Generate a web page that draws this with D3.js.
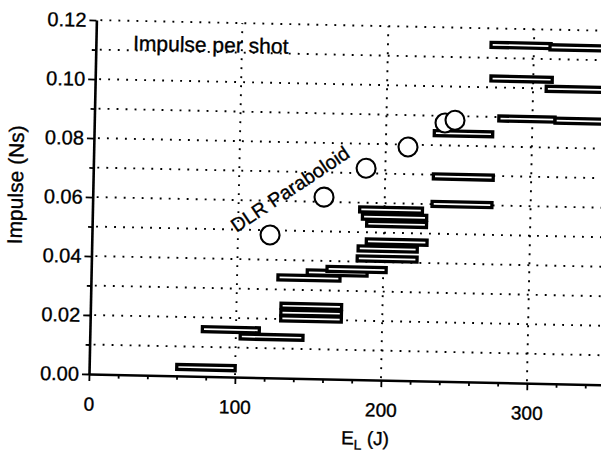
<!DOCTYPE html>
<html>
<head>
<meta charset="utf-8">
<script src="https://cdn.jsdelivr.net/npm/d3@7"></script>
<style>
  body { margin: 0; background: #fff; }
  svg { display: block; font-family: "Liberation Sans", Arial, sans-serif; }
  text { stroke: #000; stroke-width: 0.35; }
</style>
</head>
<body>
<svg width="601" height="454"></svg>
<script>
// energy ranges (J) and impulse (Ns) of the measured shots
const barLow     = [60, 77, 103, 130.5, 130.5, 130.5, 128, 148, 161.5, 182, 182.5, 188, 183, 185, 188, 232.5, 233, 233, 271, 309, 270.6, 311, 277, 315.5];
const barHigh    = [100, 116, 146, 172, 172, 172, 170.5, 189, 202, 223, 223, 229.6, 226, 229, 229, 273.5, 274, 273, 313, 370, 311.7, 370, 315.5, 370];
const barImpulse = [0.003, 0.016, 0.0138, 0.0245, 0.0222, 0.0202, 0.0341, 0.036, 0.0373, 0.0411, 0.0445, 0.0469, 0.0577, 0.0553, 0.0529, 0.0601, 0.0694, 0.0841, 0.103, 0.0999, 0.1144, 0.114, 0.0895, 0.0892];

// DLR paraboloid points
const dlrEnergy  = [122, 158.4, 186.8, 215.2, 240.2, 247];
const dlrImpulse = [0.0484, 0.0616, 0.0717, 0.0792, 0.0876, 0.0886];

const xTicks  = [0, 100, 200, 300];
const xMinor  = [20, 40, 60, 80, 120, 140, 160, 180, 220, 240, 260, 280, 320, 340];
const xGrid   = [100, 200, 300];
const yTicks  = [0, 0.02, 0.04, 0.06, 0.08, 0.10, 0.12];
const yMinor  = [0.01, 0.03, 0.05, 0.07, 0.09, 0.11];
const yGrid   = [0.01, 0.02, 0.03, 0.04, 0.05, 0.06, 0.07, 0.08, 0.09, 0.10, 0.11, 0.12];

const svg = d3.select("svg");

// the scanned figure is slightly tilted, keep that
const g = svg.append("g").attr("transform", "translate(89,374) rotate(1.2)");

const x = d3.scaleLinear().domain([0, 360]).range([0, 525.6]);
const y = d3.scaleLinear().domain([0, 0.12]).range([0, -354]);

// dotted grid
g.selectAll(".hgrid").data(yGrid).join("line")
    .attr("x1", 4).attr("x2", x(360))
    .attr("y1", d => y(d)).attr("y2", d => y(d))
    .attr("stroke", "#000").attr("stroke-width", 1.9)
    .attr("stroke-dasharray", "1.9 7.1");

g.selectAll(".vgrid").data(xGrid).join("line")
    .attr("x1", d => x(d)).attr("x2", d => x(d))
    .attr("y1", -2).attr("y2", y(0.12))
    .attr("stroke", "#000").attr("stroke-width", 1.9)
    .attr("stroke-dasharray", "1.9 7.1");

// axes
const xAxis = g.append("g")
    .call(d3.axisBottom(x).tickValues(xTicks).tickFormat(d3.format("d"))
        .tickSize(7).tickPadding(16).tickSizeOuter(0));
g.append("g")
    .call(d3.axisBottom(x).tickValues(xMinor).tickFormat("").tickSize(4).tickSizeOuter(0))
    .select(".domain").remove();

const yAxis = g.append("g")
    .call(d3.axisLeft(y).tickValues(yTicks).tickFormat(d3.format(".2f"))
        .tickSize(7).tickPadding(3).tickSizeOuter(0));
g.append("g")
    .call(d3.axisLeft(y).tickValues(yMinor).tickFormat("").tickSize(4).tickSizeOuter(0))
    .select(".domain").remove();

g.selectAll(".domain").attr("stroke", "#000").attr("stroke-width", 2.6);
g.selectAll(".tick line").attr("stroke", "#000").attr("stroke-width", 1.8);
xAxis.selectAll("text").attr("font-size", 19).attr("fill", "#000");
yAxis.selectAll("text").attr("font-size", 20).attr("fill", "#000");

// shot bars
const bh = 5;
g.selectAll(".bar").data(barImpulse).join("rect")
    .attr("x", (d, i) => x(barLow[i]))
    .attr("width", (d, i) => x(barHigh[i]) - x(barLow[i]))
    .attr("y", d => y(d) - bh / 2)
    .attr("height", bh)
    .attr("fill", "#fff")
    .attr("stroke", "#000")
    .attr("stroke-width", 3.3);

// DLR paraboloid circles
g.selectAll(".dlr").data(dlrImpulse).join("circle")
    .attr("cx", (d, i) => x(dlrEnergy[i]))
    .attr("cy", d => y(d))
    .attr("r", 9.5)
    .attr("fill", "#fff")
    .attr("stroke", "#000")
    .attr("stroke-width", 2.1);

// labels
g.append("text")
    .attr("x", x(25.5)).attr("y", y(0.110))
    .attr("font-size", 21)
    .text("Impulse per shot");

g.append("text")
    .attr("transform", `translate(${x(135)},${y(0.0641)}) rotate(-35)`)
    .attr("text-anchor", "middle").attr("dy", "0.35em")
    .attr("font-size", 19.5)
    .text("DLR Paraboloid");

g.append("text")
    .attr("transform", `translate(-70,${y(0.0636)}) rotate(-90)`)
    .attr("text-anchor", "middle")
    .attr("font-size", 21)
    .text("Impulse (Ns)");

const xl = g.append("text")
    .attr("x", x(190)).attr("y", 65)
    .attr("text-anchor", "middle")
    .attr("font-size", 19);
xl.append("tspan").text("E");
xl.append("tspan").attr("font-size", 14).attr("dy", 5).text("L");
xl.append("tspan").attr("dy", -5).text(" (J)");
</script>
</body>
</html>
